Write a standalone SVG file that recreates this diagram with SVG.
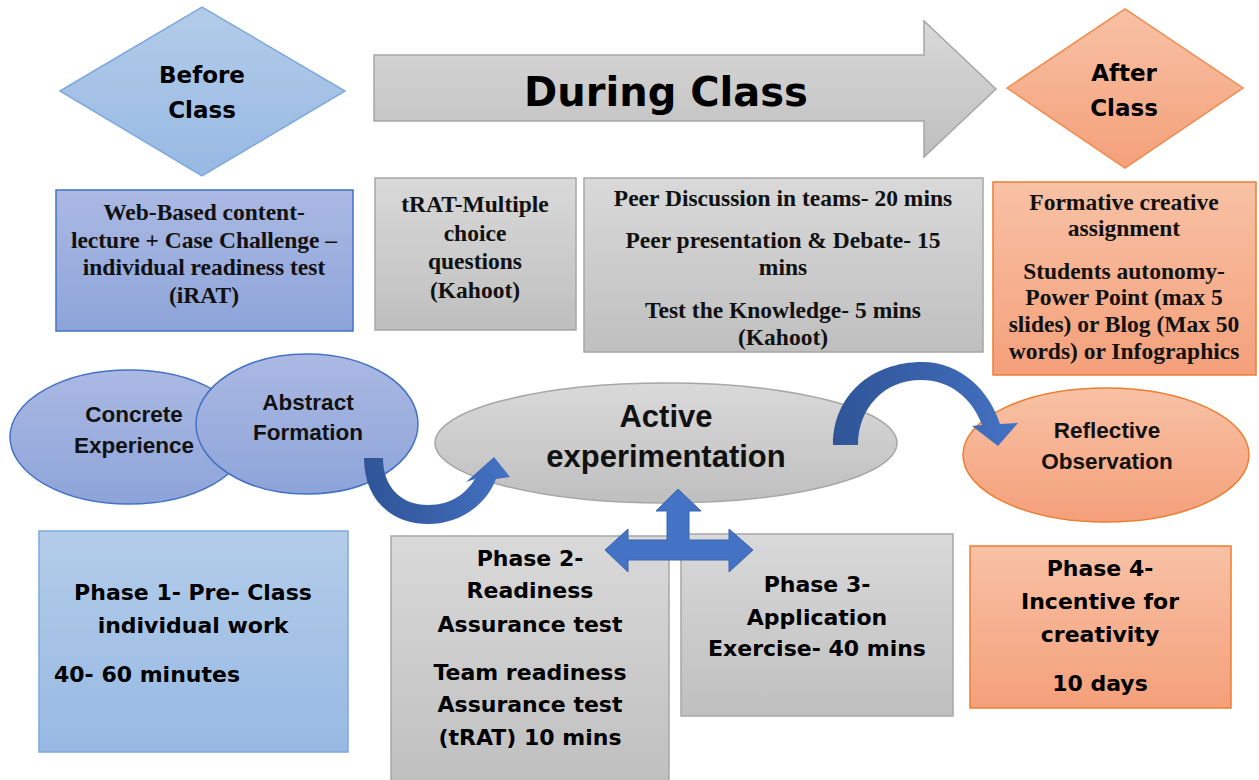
<svg xmlns="http://www.w3.org/2000/svg" width="1259" height="780" viewBox="0 0 1259 780">
<defs>
<linearGradient id="gBlueL" x1="0" y1="0" x2="0" y2="1"><stop offset="0" stop-color="#b3cce9"/><stop offset="1" stop-color="#97b9e3"/></linearGradient>
<linearGradient id="gBlueM" x1="0" y1="0" x2="0" y2="1"><stop offset="0" stop-color="#abb9e3"/><stop offset="1" stop-color="#8da4d9"/></linearGradient>
<linearGradient id="gGray" x1="0" y1="0" x2="0" y2="1"><stop offset="0" stop-color="#d9d9d9"/><stop offset="1" stop-color="#bfbfbf"/></linearGradient>
<linearGradient id="gOrange" x1="0" y1="0" x2="0" y2="1"><stop offset="0" stop-color="#f8c1a5"/><stop offset="1" stop-color="#f4a07a"/></linearGradient>
<linearGradient id="gArrow1" x1="0" y1="0" x2="1" y2="0"><stop offset="0" stop-color="#2f5597"/><stop offset="0.55" stop-color="#3a63ad"/><stop offset="1" stop-color="#4472c4"/></linearGradient>
<style>
.sans{font-family:"DejaVu Sans","Liberation Sans",sans-serif;font-weight:bold;fill:#000;text-anchor:middle}
.din{font-family:"Liberation Sans","DejaVu Sans",sans-serif;font-weight:bold;fill:#111;text-anchor:middle}
.serif{font-family:"Liberation Serif","DejaVu Serif",serif;font-weight:bold;fill:#111;text-anchor:middle;font-size:23.5px}
.grayBox{fill:url(#gGray);stroke:#a6a6a6;stroke-width:1.5}
.orangeBox{fill:url(#gOrange);stroke:#ed7d31;stroke-width:1.5}
.blueArrow{fill:#4472c4;stroke:#3b64ae;stroke-width:1}
</style>
</defs>
<rect width="1259" height="780" fill="#ffffff"/>

<g id="before-class">
<polygon points="60,91 202,7 345,91 202,176" fill="url(#gBlueL)" stroke="#7ea9dc" stroke-width="1.5"/>
<text class="sans" x="202" y="83" font-size="23">Before</text>
<text class="sans" x="202" y="118" font-size="23">Class</text>
</g>

<g id="during-class">
<polygon points="374,55 924,55 924,21 996,89 924,157 924,121 374,121" fill="url(#gGray)" stroke="#a6a6a6" stroke-width="1.5"/>
<text class="sans" x="666" y="106" font-size="40">During Class</text>
</g>

<g id="after-class">
<polygon points="1007,88 1125,9 1243,88 1125,168" fill="url(#gOrange)" stroke="#f08a4b" stroke-width="1.5"/>
<text class="sans" x="1124" y="81" font-size="23">After</text>
<text class="sans" x="1124" y="116" font-size="23">Class</text>
</g>

<g id="web-based">
<rect x="56" y="190" width="297" height="141" fill="url(#gBlueM)" stroke="#4472c4" stroke-width="1.5"/>
<text class="serif" x="204" y="220">Web-Based content-</text>
<text class="serif" x="204" y="248">lecture + Case Challenge –</text>
<text class="serif" x="204" y="275">individual readiness test</text>
<text class="serif" x="204" y="303">(iRAT)</text>
</g>

<g id="trat">
<rect x="375" y="178" width="201" height="152" class="grayBox"/>
<text class="serif" x="475" y="212">tRAT-Multiple</text>
<text class="serif" x="475" y="241">choice</text>
<text class="serif" x="475" y="269">questions</text>
<text class="serif" x="475" y="298">(Kahoot)</text>
</g>

<g id="peer">
<rect x="584" y="178" width="399" height="174" class="grayBox"/>
<text class="serif" x="783" y="206">Peer Discussion in teams- 20 mins</text>
<text class="serif" x="783" y="248">Peer presentation &amp; Debate- 15</text>
<text class="serif" x="783" y="275">mins</text>
<text class="serif" x="783" y="318">Test the Knowledge- 5 mins</text>
<text class="serif" x="783" y="345">(Kahoot)</text>
</g>

<g id="formative">
<rect x="993" y="182" width="263" height="193" class="orangeBox"/>
<text class="serif" x="1124" y="210">Formative creative</text>
<text class="serif" x="1124" y="236">assignment</text>
<text class="serif" x="1124" y="279">Students autonomy-</text>
<text class="serif" x="1124" y="305">Power Point (max 5</text>
<text class="serif" x="1124" y="332">slides) or Blog (Max 50</text>
<text class="serif" x="1124" y="359">words) or Infographics</text>
</g>

<g id="concrete-experience">
<ellipse cx="129" cy="437" rx="119" ry="67" fill="url(#gBlueM)" stroke="#4472c4" stroke-width="1.5"/>
<text class="din" x="134" y="422" font-size="22.5">Concrete</text>
<text class="din" x="134" y="453" font-size="22.5">Experience</text>
</g>

<g id="abstract-formation">
<ellipse cx="307" cy="424" rx="111" ry="70" fill="url(#gBlueM)" stroke="#4472c4" stroke-width="1.5"/>
<text class="din" x="308" y="410" font-size="22.5">Abstract</text>
<text class="din" x="308" y="440" font-size="22.5">Formation</text>
</g>

<g id="active-experimentation">
<ellipse cx="666" cy="443" rx="231" ry="60" fill="url(#gGray)" stroke="#a6a6a6" stroke-width="1.5"/>
<text class="din" x="666" y="427" font-size="31">Active</text>
<text class="din" x="666" y="467" font-size="31">experimentation</text>
</g>

<g id="reflective-observation">
<ellipse cx="1106" cy="455" rx="143" ry="67" fill="url(#gOrange)" stroke="#ed7d31" stroke-width="1.5"/>
<text class="din" x="1107" y="438" font-size="22.5">Reflective</text>
<text class="din" x="1107" y="469" font-size="22.5">Observation</text>
</g>

<g id="phase1">
<rect x="39" y="531" width="309" height="221" fill="url(#gBlueL)" stroke="#7ea9dc" stroke-width="1.5"/>
<text class="sans" x="193" y="600" font-size="22">Phase 1- Pre- Class</text>
<text class="sans" x="193" y="633" font-size="22">individual work</text>
<text class="sans" x="54" y="682" font-size="22" style="text-anchor:start">40- 60 minutes</text>
</g>

<g id="phase2">
<rect x="391" y="536" width="278" height="250" class="grayBox"/>
<text class="sans" x="530" y="566" font-size="22">Phase 2-</text>
<text class="sans" x="530" y="598" font-size="22">Readiness</text>
<text class="sans" x="530" y="632" font-size="22">Assurance test</text>
<text class="sans" x="530" y="680" font-size="22">Team readiness</text>
<text class="sans" x="530" y="712" font-size="22">Assurance test</text>
<text class="sans" x="530" y="745" font-size="22">(tRAT) 10 mins</text>
</g>

<g id="phase3">
<rect x="681" y="534" width="272" height="182" class="grayBox"/>
<text class="sans" x="817" y="592" font-size="22">Phase 3-</text>
<text class="sans" x="817" y="625" font-size="22">Application</text>
<text class="sans" x="817" y="656" font-size="22">Exercise- 40 mins</text>
</g>

<g id="phase4">
<rect x="970" y="546" width="261" height="162" class="orangeBox"/>
<text class="sans" x="1100" y="576" font-size="22">Phase 4-</text>
<text class="sans" x="1100" y="609" font-size="22">Incentive for</text>
<text class="sans" x="1100" y="642" font-size="22">creativity</text>
<text class="sans" x="1100" y="691" font-size="22">10 days</text>
</g>

<g id="connectors">
<path d="M364,458 L383,458 C383,488 402,505 428,505 C452,505 466,493 475,479 L466,482 L494,457 L510,477 L496,479 C486,505 460,524 428,524 C392,524 364,500 364,458 Z" fill="url(#gArrow1)"/>
<path d="M833,445 C833,395 872,362 922,362 C962,362 990,392 1000,424 L1018,423 L998,446 L972,426 L982,425 C972,398 950,380 921,380 C884,380 858,408 858,445 Z" fill="url(#gArrow1)"/>
<polygon class="blueArrow" points="678,489 701,511 689,511 689,540 729,540 729,529 753,550 729,572 729,560 628,560 628,572 605,550 628,529 628,540 667,540 667,511 656,511"/>
</g>
</svg>
